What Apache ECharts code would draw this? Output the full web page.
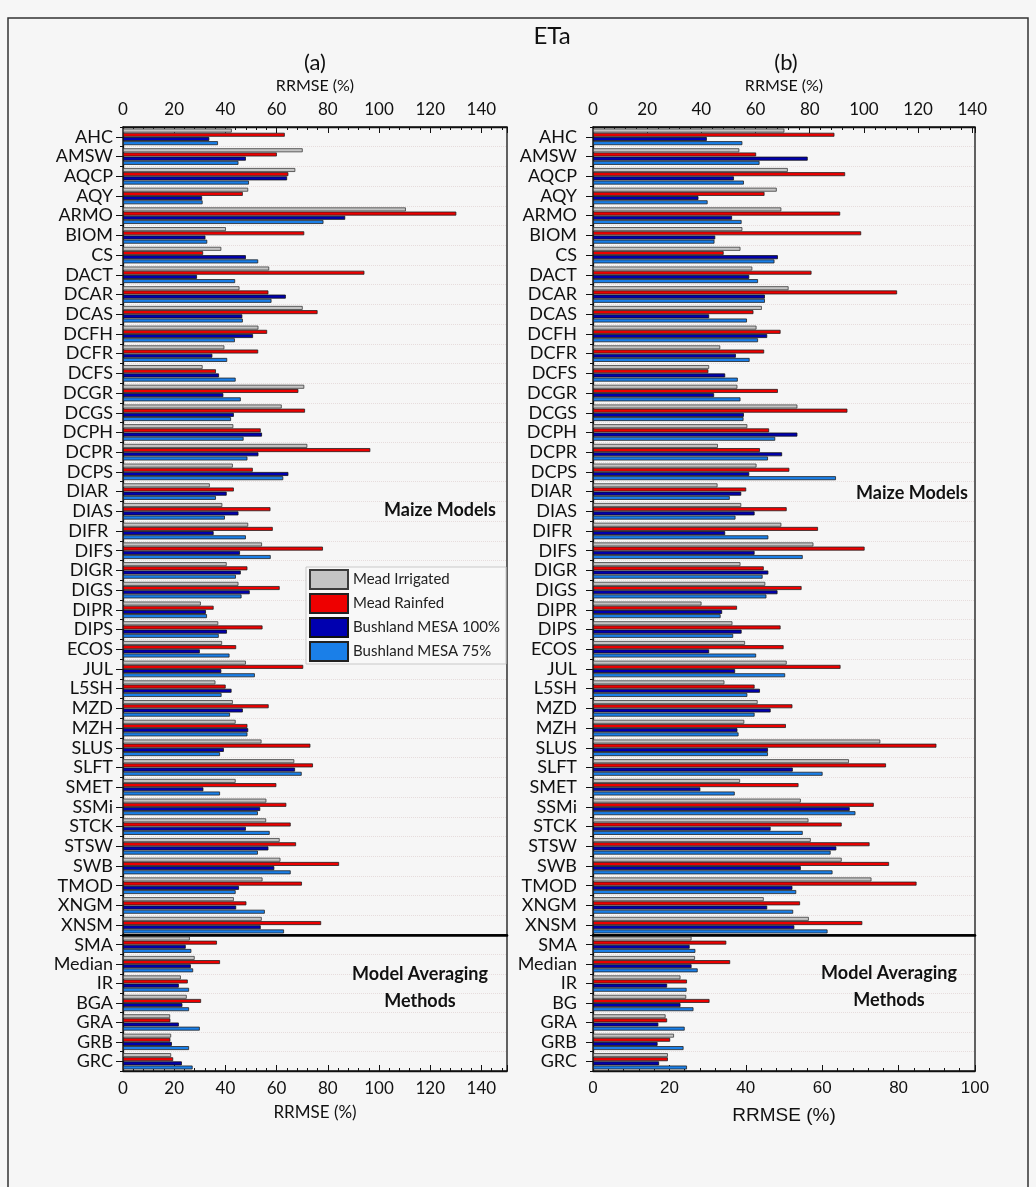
<!DOCTYPE html>
<html>
<head>
<meta charset="utf-8">
<title>ETa RRMSE</title>
<script src="https://cdn.jsdelivr.net/npm/echarts@6/dist/echarts.min.js"></script>
<style>
html, body { margin: 0; padding: 0; background: #f6f6f6; }
#main { width: 1036px; height: 1187px; }
</style>
</head>
<body>
<div id="main"></div>
<script>
// categories
var maizeModels = ['AHC', 'AMSW', 'AQCP', 'AQY', 'ARMO', 'BIOM', 'CS', 'DACT', 'DCAR', 'DCAS', 'DCFH', 'DCFR',
  'DCFS', 'DCGR', 'DCGS', 'DCPH', 'DCPR', 'DCPS', 'DIAR ', 'DIAS', 'DIFR ', 'DIFS', 'DIGR', 'DIGS', 'DIPR', 'DIPS',
  'ECOS', 'JUL', 'L5SH', 'MZD', 'MZH', 'SLUS', 'SLFT', 'SMET', 'SSMi', 'STCK', 'STSW', 'SWB', 'TMOD', 'XNGM', 'XNSM'];
var avgMethodsA = ['SMA', 'Median', 'IR', 'BGA', 'GRA', 'GRB', 'GRC'];
var avgMethodsB = ['SMA', 'Median', 'IR', 'BG', 'GRA', 'GRB', 'GRC'];
var seriesNames = ['Mead Irrigated', 'Mead Rainfed', 'Bushland MESA 100%', 'Bushland MESA 75%'];

// panel (a) - maize models
var aIrrigated = [42.5, 70.2, 67.3, 48.9, 110.5, 40.2, 38.4, 57.1, 45.5, 70.2, 52.9, 39.6,
  31.1, 70.8, 62.0, 43.1, 72.0, 42.9, 33.9, 38.8, 48.9, 54.3, 40.5, 45.1, 30.4, 37.2,
  38.7, 48.0, 36.1, 42.9, 44.0, 54.1, 66.9, 44.0, 56.0, 55.9, 61.2, 61.5, 54.5, 43.3, 54.2];
var aRainfed = [63.2, 60.1, 64.6, 46.8, 130.2, 70.8, 31.3, 94.3, 56.8, 76.0, 56.3, 52.8,
  36.3, 68.5, 71.1, 53.8, 96.6, 50.7, 43.3, 57.6, 58.5, 78.1, 48.6, 61.2, 35.4, 54.5,
  44.2, 70.4, 40.1, 56.9, 48.6, 73.2, 74.2, 59.9, 63.8, 65.5, 67.6, 84.4, 69.9, 48.2, 77.4];
var aMesa100 = [33.7, 48.0, 64.1, 30.9, 86.8, 32.2, 48.0, 28.9, 63.6, 46.6, 50.8, 34.9,
  37.5, 39.2, 43.3, 54.3, 52.9, 64.6, 40.5, 45.1, 35.4, 45.7, 46.0, 49.5, 32.4, 40.6,
  30.0, 38.4, 42.4, 46.8, 48.9, 39.4, 67.2, 31.4, 53.6, 48.0, 56.8, 59.1, 45.3, 44.2, 53.8];
var aMesa75 = [37.1, 45.1, 49.2, 31.1, 78.3, 32.9, 52.8, 43.8, 58.0, 46.8, 43.7, 40.7,
  44.0, 46.0, 42.2, 47.1, 48.6, 62.6, 36.3, 39.8, 48.0, 57.7, 44.1, 46.3, 32.8, 37.4,
  41.6, 51.5, 38.5, 41.8, 48.6, 37.9, 69.8, 37.9, 52.7, 57.3, 52.7, 65.5, 44.0, 55.4, 62.9];
// panel (a) - model averaging methods
var aAvgIrrigated = [26.1, 28.0, 22.6, 24.9, 18.4, 18.8, 18.8];
var aAvgRainfed = [36.7, 37.9, 25.3, 30.5, 18.5, 18.5, 19.6];
var aAvgMesa100 = [24.5, 26.5, 21.8, 23.2, 21.8, 19.1, 23.0];
var aAvgMesa75 = [26.7, 27.4, 25.8, 25.8, 30.0, 25.8, 27.2];

// panel (b) - maize models
var bIrrigated = [50.1, 38.3, 51.0, 48.1, 49.3, 39.1, 38.6, 41.7, 51.2, 44.2, 42.8, 33.3,
  30.4, 37.8, 53.5, 40.4, 32.7, 42.8, 32.6, 38.8, 49.3, 57.7, 38.6, 45.1, 28.4, 36.5,
  39.8, 50.7, 34.4, 43.1, 39.6, 75.2, 67.0, 38.5, 54.4, 56.4, 57.0, 65.1, 72.9, 44.7, 56.5];
var bRainfed = [63.2, 42.7, 66.0, 44.9, 64.7, 70.2, 34.2, 57.2, 79.6, 42.0, 49.1, 44.8,
  30.2, 48.4, 66.6, 46.1, 43.7, 51.4, 40.1, 50.7, 58.9, 71.1, 44.7, 54.6, 37.7, 49.1,
  49.9, 64.8, 42.3, 52.2, 50.5, 89.9, 76.7, 53.8, 73.5, 65.1, 72.4, 77.5, 84.7, 54.2, 70.5];
var bMesa100 = [29.8, 56.2, 36.9, 27.6, 36.4, 32.0, 48.4, 40.9, 45.0, 30.4, 45.6, 37.4,
  34.6, 31.7, 39.5, 53.5, 49.5, 40.9, 38.8, 42.3, 34.6, 42.3, 45.9, 48.3, 33.8, 38.9,
  30.4, 37.2, 43.7, 46.5, 37.8, 45.8, 52.3, 28.1, 67.2, 46.5, 63.7, 54.4, 52.2, 45.6, 52.7];
var bMesa75 = [39.1, 43.6, 39.5, 30.0, 38.9, 31.8, 47.5, 43.2, 45.0, 40.3, 43.2, 41.0,
  37.9, 38.6, 39.4, 47.7, 45.8, 63.6, 35.8, 37.3, 45.9, 54.9, 44.4, 45.4, 33.4, 36.7,
  42.7, 50.3, 40.4, 42.3, 38.1, 45.8, 60.1, 37.1, 68.7, 54.9, 62.2, 62.7, 53.2, 52.4, 61.4];
// panel (b) - model averaging methods
var bAvgIrrigated = [25.8, 26.7, 22.9, 24.4, 19.0, 21.2, 19.6];
var bAvgRainfed = [34.9, 35.9, 24.6, 30.5, 19.4, 20.2, 19.6];
var bAvgMesa100 = [25.3, 25.8, 19.4, 22.9, 17.1, 16.9, 17.3];
var bAvgMesa75 = [26.8, 27.4, 24.5, 26.3, 24.0, 23.7, 24.6];

var FONT = 'Lato, "Open Sans", sans-serif';
var barColors = ['#c4c4c4', '#ee0000', '#0000b0', '#1a7fe8'];
var barBorders = ['#3c3c3c', '#222222', '#111111', '#222222'];

var myChart = echarts.init(document.getElementById('main'));

// value axis helper
var valAxis = function(gridIndex, position, max, extra) {
  var ax = {
    type: 'value',
    gridIndex: gridIndex,
    position: position,
    min: 0,
    max: max,
    interval: 20,
    axisLine: { show: true, onZero: false, lineStyle: { color: '#111', width: 1.3 } },
    axisTick: { show: true, inside: true, length: 6, lineStyle: { color: '#111' } },
    minorTick: { show: true, splitNumber: 5, length: 3, lineStyle: { color: '#111' } },
    splitLine: { show: false },
    axisLabel: { show: true, showMaxLabel: max === 100, color: '#111', fontSize: 17, fontFamily: FONT, margin: 9 },
    nameLocation: 'middle',
    nameGap: 33,
    nameTextStyle: { color: '#111', fontSize: 16, fontFamily: FONT }
  };
  for (var k in extra) {
    ax[k] = extra[k];
  }
  return ax;
};

// category axes: one with labels + centre ticks, one with boundary ticks + dotted lines
var catAxes = function(gridIndex, cats, labelMargin) {
  return [{
    type: 'category',
    gridIndex: gridIndex,
    data: cats,
    inverse: true,
    position: 'left',
    axisLine: { show: true, lineStyle: { color: '#111', width: 1.3 } },
    axisTick: { show: true, interval: 0, alignWithLabel: true, length: 7, lineStyle: { color: '#111' } },
    axisLabel: { interval: 0, color: '#111', fontSize: 18, fontFamily: FONT, margin: labelMargin },
    splitLine: { show: false }
  }, {
    type: 'category',
    gridIndex: gridIndex,
    data: cats,
    inverse: true,
    position: 'left',
    axisLine: { show: false },
    axisTick: { show: true, interval: 0, length: 3, lineStyle: { color: '#111' } },
    axisLabel: { show: false },
    splitLine: { show: true, interval: 0, lineStyle: { color: '#e6dcdc', type: 'dotted', width: 1 } }
  }];
};

var barSeries = function(xIdx, yIdx, data, i) {
  return {
    type: 'bar',
    name: seriesNames[i],
    xAxisIndex: xIdx,
    yAxisIndex: yIdx,
    data: data,
    barGap: '6%',
    barCategoryGap: '16%',
    itemStyle: { color: barColors[i], borderColor: barBorders[i], borderWidth: 0.8 },
    emphasis: { disabled: true },
    z: 3
  };
};

var gridStyle = { show: true, borderColor: '#111', borderWidth: 1.3, backgroundColor: 'transparent' };
var grids = [
  Object.assign({ left: 123, top: 127, width: 384, height: 808 }, gridStyle),
  Object.assign({ left: 123, top: 935, width: 384, height: 136 }, gridStyle),
  Object.assign({ left: 593, top: 127, width: 382, height: 808 }, gridStyle),
  Object.assign({ left: 593, top: 935, width: 382, height: 136 }, gridStyle)
];

var xAxes = [
  valAxis(0, 'top', 150, { name: 'RRMSE (%)' }),
  valAxis(1, 'bottom', 150, { name: 'RRMSE (%)', nameTextStyle: { color: '#111', fontSize: 17, fontFamily: FONT } }),
  valAxis(2, 'top', 141, { name: 'RRMSE (%)' }),
  valAxis(2, 'bottom', 100, { show: false }),
  valAxis(3, 'bottom', 100, {
    name: 'RRMSE (%)',
    nameGap: 35,
    nameTextStyle: { color: '#111', fontSize: 19, fontFamily: '"Liberation Sans", Arial, sans-serif' },
    axisLabel: { color: '#111', fontSize: 17, fontFamily: '"Liberation Sans", Arial, sans-serif', margin: 9 }
  }),
  // thick separator between maize models and averaging methods
  valAxis(1, 'top', 150, { axisLabel: { show: false }, axisTick: { show: false }, minorTick: { show: false },
    axisLine: { show: true, onZero: false, lineStyle: { color: '#000', width: 2.6 } } }),
  valAxis(3, 'top', 100, { axisLabel: { show: false }, axisTick: { show: false }, minorTick: { show: false },
    axisLine: { show: true, onZero: false, lineStyle: { color: '#000', width: 2.6 } } })
];

var yAxes = [].concat(
  catAxes(0, maizeModels, 10),
  catAxes(1, avgMethodsA, 10),
  catAxes(2, maizeModels, 16),
  catAxes(3, avgMethodsB, 16)
);

var series = [];
var aUpper = [aIrrigated, aRainfed, aMesa100, aMesa75];
var aLower = [aAvgIrrigated, aAvgRainfed, aAvgMesa100, aAvgMesa75];
var bUpper = [bIrrigated, bRainfed, bMesa100, bMesa75];
var bLower = [bAvgIrrigated, bAvgRainfed, bAvgMesa100, bAvgMesa75];
for (var i = 0; i < 4; i++) {
  series.push(barSeries(0, 0, aUpper[i], i));
  series.push(barSeries(1, 2, aLower[i], i));
  series.push(barSeries(3, 4, bUpper[i], i));
  series.push(barSeries(4, 6, bLower[i], i));
}

var txt = function(text, x, y, font) {
  return {
    type: 'text', x: x, y: y, z: 10,
    style: { text: text, textAlign: 'center', textVerticalAlign: 'middle', font: font, fill: '#111', lineHeight: 27 }
  };
};

var options = {
  backgroundColor: '#f6f6f6',
  animation: false,
  textStyle: { fontFamily: FONT },
  grid: grids,
  xAxis: xAxes,
  yAxis: yAxes,
  legend: {
    data: seriesNames,
    orient: 'vertical',
    left: 306,
    top: 567,
    icon: 'rect',
    itemWidth: 38,
    itemHeight: 19,
    itemGap: 3,
    selectedMode: false,
    padding: [2, 6, 2, 3],
    borderColor: '#c8c8c8',
    borderWidth: 1,
    backgroundColor: '#f8f8f8',
    textStyle: { fontSize: 15, fontFamily: FONT, color: '#222' }
  },
  graphic: [
    { type: 'rect', z: 10, shape: { x: 8, y: 18, width: 1020, height: 1200 },
      style: { fill: 'none', stroke: '#333', lineWidth: 1.5 } },
    txt('ETa', 552, 36, '24px ' + FONT),
    txt('(a)', 315, 63, '22px ' + FONT),
    txt('(b)', 786, 63, '22px ' + FONT),
    txt('Maize Models', 440, 510, 'bold 18px ' + FONT),
    txt('Maize Models', 912, 493, 'bold 18px ' + FONT),
    txt('Model Averaging\nMethods', 420, 988, 'bold 18px ' + FONT),
    txt('Model Averaging\nMethods', 889, 987, 'bold 18px ' + FONT)
  ],
  series: series
};

myChart.setOption(options, true);
</script>
</body>
</html>
